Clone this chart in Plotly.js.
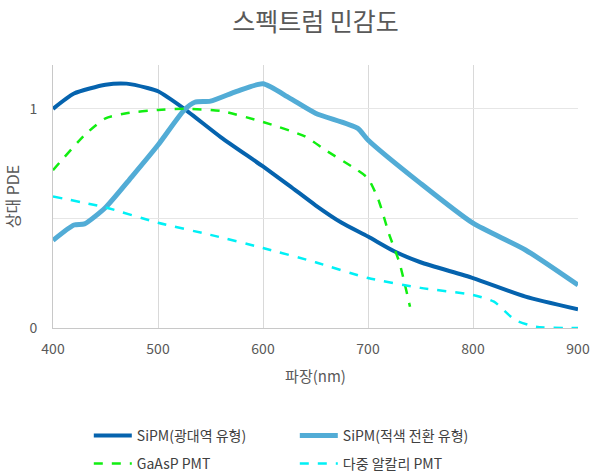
<!DOCTYPE html>
<html><head><meta charset="utf-8">
<script src="https://cdn.plot.ly/plotly-3.0.1.min.js"></script>
<style>body{margin:0}#c{width:592px;height:473px}</style>
</head><body><div id="c"></div>
<script>
const broadX = [400,420,450,470,490,500,525,560,600,625,650,675,700,725,750,800,850,900];
const broadY = [1.0,1.07,1.11,1.115,1.095,1.08,1.0,0.87,0.737,0.65,0.56,0.48,0.417,0.35,0.30,0.228,0.143,0.085];
const redX = [400,420,430,450,475,500,525,535,550,575,600,625,650,690,700,750,800,850,900];
const redY = [0.40,0.47,0.475,0.55,0.69,0.835,0.995,1.03,1.035,1.08,1.114,1.05,0.98,0.912,0.858,0.66,0.478,0.356,0.196];
const gaX = [400,430,450,470,500,525,560,600,640,660,690,700,710,720,730,740];
const gaY = [0.72,0.88,0.957,0.98,0.995,1.0,0.99,0.94,0.874,0.81,0.72,0.683,0.584,0.43,0.297,0.097];
const maX = [400,450,500,550,600,650,700,750,800,820,840,860,900];
const maY = [0.60,0.55,0.48,0.425,0.365,0.30,0.228,0.183,0.151,0.12,0.037,0.006,0.0];
const names = ['SiPM(광대역 유형)','SiPM(적색 전환 유형)','GaAsP PMT','다중 알칼리 PMT'];
const xTicks = [400,500,600,700,800,900];

const font = "'Noto Sans CJK KR', 'Noto Sans', sans-serif";
const traces = [
  {x: broadX, y: broadY, name: names[0], legend:'legend', mode:'lines', line:{color:'#0563ae', width:4, shape:'spline', smoothing:0.6}},
  {x: redX, y: redY, name: names[1], legend:'legend', mode:'lines', line:{color:'#52acd6', width:5, shape:'spline', smoothing:0.6}},
  {x: gaX, y: gaY, name: names[2], legend:'legend2', mode:'lines', line:{color:'#11ee11', width:2.5, dash:'dash', shape:'spline', smoothing:0.6}},
  {x: maX, y: maY, name: names[3], legend:'legend2', mode:'lines', line:{color:'#00f0f5', width:2.5, dash:'dash', shape:'spline', smoothing:0.6}}
];
const legBase = {orientation:'h', xref:'container', yref:'container', x:0.15, xanchor:'left', yanchor:'middle',
  entrywidth:153, font:{size:14, color:'#404040', family:font}, itemwidth:38, bgcolor:'rgba(0,0,0,0)'};
const layout = {
  width:592, height:473,
  margin:{l:53, r:14, t:65, b:145, autoexpand:false},
  paper_bgcolor:'#fff', plot_bgcolor:'#fff',
  font:{family:font, color:'#595959', size:14},
  title:{text:'스펙트럼 민감도', xref:'paper', x:0.5, xanchor:'center', yref:'container', y:1-22/473, yanchor:'middle', font:{size:25, color:'#595959', family:font}},
  xaxis:{range:[400,900], tickvals:xTicks, ticktext:xTicks.map(String), showgrid:true, gridcolor:'#d9d9d9', gridwidth:1,
    showline:true, linecolor:'#c8c8c8', linewidth:1, zeroline:false, ticks:'', ticklabelstandoff:8,
    tickfont:{size:14, color:'#595959'}, title:{text:'파장(nm)', font:{size:15, color:'#595959'}, standoff:14}},
  yaxis:{range:[0,1.2], tickvals:[0,0.5,1], ticktext:['0','','1'], showgrid:true, gridcolor:'#e6e6e6', gridwidth:1,
    showline:true, linecolor:'#c8c8c8', linewidth:1, zeroline:false, ticks:'', ticklabelstandoff:12,
    tickfont:{size:14, color:'#595959'}, title:{text:'상대 PDE', font:{size:16, color:'#595959'}, standoff:6}},
  showlegend:true,
  legend:Object.assign({}, legBase, {y:(473-436)/473}),
  legend2:Object.assign({}, legBase, {y:(473-464)/473})
};
Plotly.newPlot('c', traces, layout, {displayModeBar:false});
</script></body></html>
